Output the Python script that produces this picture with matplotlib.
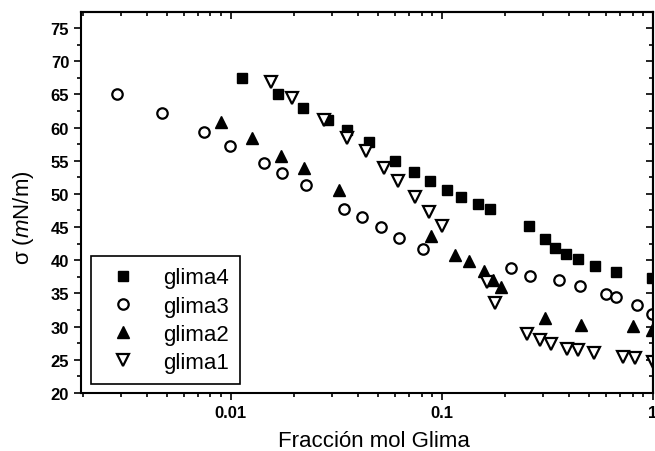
import matplotlib
matplotlib.use('Agg')
import matplotlib.pyplot as plt
from matplotlib.ticker import MultipleLocator, LogLocator, FuncFormatter, NullFormatter

plt.rcParams['font.family'] = ['Liberation Sans', 'DejaVu Sans']
plt.rcParams['font.weight'] = 'bold'
plt.rcParams['mathtext.fontset'] = 'custom'
plt.rcParams['mathtext.it'] = 'Liberation Sans:style=italic:weight=normal'
plt.rcParams['mathtext.rm'] = 'Liberation Sans:weight=normal'

# glima4 (filled squares)
x_glima4 = [0.0113, 0.0167, 0.0220, 0.0288, 0.0355, 0.0451, 0.0599, 0.0739, 0.0878,
            0.1055, 0.1228, 0.1477, 0.1691, 0.2582, 0.3088, 0.3443, 0.3851, 0.4391,
            0.5324, 0.6676, 0.9894]
y_glima4 = [67.4, 65.1, 63.0, 61.1, 59.7, 57.8, 55.0, 53.3, 52.0,
            50.6, 49.6, 48.5, 47.7, 45.1, 43.2, 41.9, 41.0, 40.2,
            39.2, 38.3, 37.4]

# glima3 (open circles)
x_glima3 = [0.00288, 0.0047, 0.00743, 0.00989, 0.01429, 0.01738, 0.02265, 0.03436,
            0.0418, 0.0517, 0.0629, 0.0811, 0.2134, 0.260, 0.3597, 0.4487, 0.5957,
            0.6668, 0.8433, 0.989]
y_glima3 = [65.0, 62.2, 59.35, 57.15, 54.6, 53.1, 51.3, 47.7,
            46.5, 45.0, 43.4, 41.7, 38.8, 37.6, 37.1, 36.1, 34.9,
            34.5, 33.3, 31.9]

# glima2 (filled triangles up)
x_glima2 = [0.00898, 0.01257, 0.01733, 0.02224, 0.0325, 0.08845, 0.1159, 0.1346,
            0.1588, 0.1743, 0.1898, 0.3088, 0.4534, 0.8049, 0.9915]
y_glima2 = [60.8, 58.4, 55.7, 53.9, 50.6, 43.6, 40.8, 39.9,
            38.4, 37.0, 35.9, 31.3, 30.2, 30.1, 29.5]

# glima1 (open triangles down)
x_glima1 = [0.01541, 0.01942, 0.02768, 0.03538, 0.04348, 0.05297, 0.06205, 0.07418,
            0.08699, 0.09954, 0.1626, 0.1781, 0.2520, 0.2905, 0.3268, 0.3905, 0.4426,
            0.5252, 0.7235, 0.8252, 0.9968]
y_glima1 = [66.8, 64.5, 61.2, 58.4, 56.5, 53.9, 52.0, 49.6,
            47.3, 45.1, 36.7, 33.6, 28.9, 28.0, 27.4, 26.6, 26.5,
            26.0, 25.5, 25.2, 24.6]

fig = plt.figure(figsize=(6.55, 4.52), dpi=100)
ax = fig.add_axes([0.1237, 0.1283, 0.8733, 0.8429])

ax.plot(x_glima4, y_glima4, 's', color='black', ms=7.5, label='glima4')
ax.plot(x_glima3, y_glima3, 'o', mfc='white', mec='black', mew=1.6, ms=7.5, label='glima3')
ax.plot(x_glima2, y_glima2, '^', color='black', ms=8.5, label='glima2')
ax.plot(x_glima1, y_glima1, 'v', mfc='white', mec='black', mew=1.6, ms=8.5, label='glima1')

ax.set_xscale('log')
ax.set_xlim(0.00195, 1.0)
ax.set_ylim(20, 77.4)

ax.xaxis.set_major_locator(LogLocator(base=10))
ax.xaxis.set_minor_locator(LogLocator(base=10, subs=range(2, 10)))
ax.xaxis.set_major_formatter(FuncFormatter(lambda v, p: '%g' % v))
ax.xaxis.set_minor_formatter(NullFormatter())
ax.yaxis.set_major_locator(MultipleLocator(5))
ax.yaxis.set_minor_locator(MultipleLocator(2.5))

for s in ax.spines.values():
    s.set_linewidth(1.5)

ax.tick_params(which='both', direction='out', top=False, right=False, width=1.2, labelsize=12)
ax.tick_params(which='major', length=5)
ax.tick_params(which='minor', length=3)

# mirrored axes with inward ticks
secx = ax.secondary_xaxis('top')
secx.xaxis.set_minor_locator(LogLocator(base=10, subs=range(2, 10)))
secx.tick_params(which='both', direction='in', labeltop=False, width=1.2)
secx.tick_params(which='major', length=5)
secx.tick_params(which='minor', length=3)
secx.spines['top'].set_linewidth(1.5)

secy = ax.secondary_yaxis('right')
secy.yaxis.set_major_locator(MultipleLocator(5))
secy.yaxis.set_minor_locator(MultipleLocator(2.5))
secy.tick_params(which='both', direction='in', labelright=False, width=1.2)
secy.tick_params(which='major', length=5)
secy.tick_params(which='minor', length=3)
secy.spines['right'].set_linewidth(1.5)

ax.set_xlabel('Fracción mol Glima', fontsize=16, fontweight='normal')
ax.xaxis.set_label_coords(0.512, -0.097)
ax.set_ylabel(r'σ ($\mathit{m}$N/m)', fontsize=16, fontweight='normal')
ax.yaxis.set_label_coords(-0.078, 0.462)

leg = ax.legend(loc='lower left', bbox_to_anchor=(0.017, 0.024), borderaxespad=0,
                frameon=True, fancybox=False, edgecolor='black', framealpha=1,
                prop={'size': 16, 'weight': 'normal'}, handlelength=1.9,
                handletextpad=0.87, borderpad=0.5, labelspacing=0.32)
leg.get_frame().set_linewidth(1.2)

plt.savefig('out.png', dpi=100)
